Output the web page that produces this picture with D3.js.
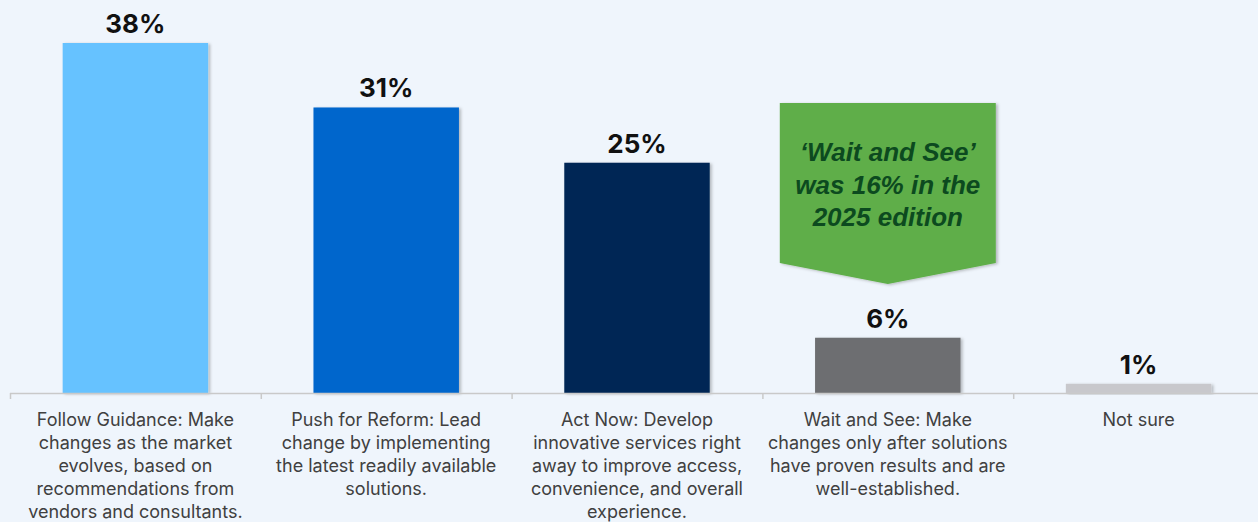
<!DOCTYPE html>
<html lang="en">
<head>
<meta charset="UTF-8">
<title>Approach chart</title>
<script src="https://d3js.org/d3.v7.min.js"></script>
<style>
  body { margin: 0; background: #eff5fc; }
  svg { display: block; }
</style>
</head>
<body>
<div id="chart"></div>
<script>
const categories = ['Follow Guidance', 'Push for Reform', 'Act Now', 'Wait and See', 'Not sure'];
const values = [38, 31, 25, 6, 1];
const labelLines = [
  ['Follow Guidance: Make', 'changes as the market', 'evolves, based on', 'recommendations from', 'vendors and consultants.'],
  ['Push for Reform: Lead', 'change by implementing', 'the latest readily available', 'solutions.'],
  ['Act Now: Develop', 'innovative services right', 'away to improve access,', 'convenience, and overall', 'experience.'],
  ['Wait and See: Make', 'changes only after solutions', 'have proven results and are', 'well-established.'],
  ['Not sure']
];
const barColors = ['#66c2ff', '#0066cc', '#002855', '#6d6e71', '#c8c8cc'];
const calloutLines = ['\u2018Wait and See\u2019', 'was 16% in the', '2025 edition'];

const width = 1258, height = 522;
const baseY = 393;

const svg = d3.select('#chart').append('svg')
  .attr('width', width).attr('height', height);

const defs = svg.append('defs');
const sh = defs.append('filter').attr('id', 'shadow').attr('x', '-10%').attr('y', '-10%').attr('width', '130%').attr('height', '130%');
sh.append('feDropShadow').attr('dx', 2).attr('dy', 1).attr('stdDeviation', 1.5).attr('flood-color', '#000').attr('flood-opacity', 0.25);

const x = d3.scaleBand().domain(categories).range([10, 1264]).paddingInner(0.42).paddingOuter(0.21);
const band = d3.scaleBand().domain(categories).range([10, 1264]);
const y = d3.scaleLinear().domain([0, 38]).range([baseY, 43]);

// bars
svg.selectAll('rect.bar').data(categories).enter().append('rect')
  .attr('class', 'bar')
  .attr('x', d => x(d))
  .attr('width', x.bandwidth())
  .attr('y', (d, i) => y(values[i]))
  .attr('height', (d, i) => baseY - y(values[i]))
  .attr('fill', (d, i) => barColors[i])
  .attr('filter', 'url(#shadow)');

// axis line and ticks
svg.append('line').attr('x1', 10).attr('x2', width).attr('y1', baseY + 0.5).attr('y2', baseY + 0.5)
  .attr('stroke', '#c9c9c9').attr('stroke-width', 1.5);
svg.selectAll('line.tick').data(categories).enter().append('line')
  .attr('x1', d => band(d) + 0.5).attr('x2', d => band(d) + 0.5)
  .attr('y1', baseY).attr('y2', baseY + 6)
  .attr('stroke', '#c9c9c9').attr('stroke-width', 1.5);

// value labels
svg.selectAll('text.val').data(categories).enter().append('text')
  .attr('x', d => x(d) + x.bandwidth() / 2)
  .attr('y', (d, i) => y(values[i]) - 10)
  .attr('text-anchor', 'middle')
  .attr('font-family', 'Inter, "Open Sans", sans-serif')
  .attr('font-weight', 700)
  .attr('font-size', 26)
  .attr('fill', '#111')
  .text((d, i) => values[i] + '%');

// category labels
const cat = svg.selectAll('text.cat').data(categories).enter().append('text')
  .attr('text-anchor', 'middle')
  .attr('font-family', 'Inter, "Open Sans", sans-serif')
  .attr('font-size', 18)
  .attr('fill', '#404040');
cat.each(function (d, i) {
  const t = d3.select(this);
  labelLines[i].forEach((ln, j) => {
    t.append('tspan').attr('x', band(d) + band.bandwidth() / 2).attr('y', 426 + j * 23).text(ln);
  });
});

// callout
const cx = x('Wait and See') + x.bandwidth() / 2;
const cL = cx - 108, cR = cx + 108, cT = 103, cB = 263, cTip = 284;
svg.append('path')
  .attr('d', `M${cL},${cT}H${cR}V${cB}L${cx},${cTip}L${cL},${cB}Z`)
  .attr('fill', '#5fae48')
  .attr('filter', 'url(#shadow)');
svg.append('text')
  .attr('text-anchor', 'middle')
  .attr('font-family', 'Arial, "Liberation Sans", sans-serif')
  .attr('font-weight', 700).attr('font-style', 'italic')
  .attr('font-size', 26)
  .attr('fill', '#0c4a1f')
  .selectAll('tspan').data(calloutLines).enter().append('tspan')
  .attr('x', cx).attr('y', (d, j) => 161 + j * 32.5).text(d => d);
</script>
</body>
</html>
